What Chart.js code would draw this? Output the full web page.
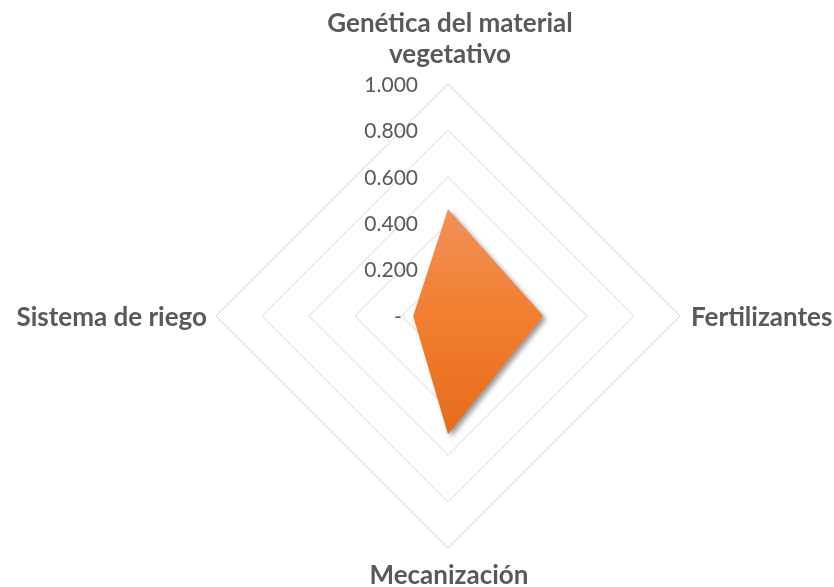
<!DOCTYPE html>
<html>
<head>
<meta charset="utf-8">
<script src="https://cdn.jsdelivr.net/npm/chart.js@4"></script>
<style>
  html, body { margin: 0; padding: 0; background: #ffffff; }
  #wrap { width: 834px; height: 587px; }
</style>
</head>
<body>
<div id="wrap"><canvas id="grafico" width="834" height="587"></canvas></div>
<script>
// categorias (la primera va arriba, luego en sentido horario)
const categorias = [
    ['Genética del material', 'vegetativo'],
    'Fertilizantes',
    'Mecanización',
    'Sistema de riego'
];
const valores = [0.46, 0.41, 0.51, 0.15];
const tickValores = [0, 0.2, 0.4, 0.6, 0.8, 1.0];
const tickEtiquetas = ['-   ', '0.200', '0.400', '0.600', '0.800', '1.000'];

const gris = '#595959';

// dibuja etiquetas de los ejes y de las categorias
const etiquetasPlugin = {
    id: 'etiquetas',
    afterDraw(chart) {
        const r = chart.scales.r;
        const ctx = chart.ctx;
        ctx.save();
        ctx.fillStyle = gris;

        // valores del eje, a la izquierda del eje vertical
        ctx.font = '21px Lato';
        ctx.textAlign = 'right';
        ctx.textBaseline = 'middle';
        r.ticks.forEach((t, i) => {
            const p = r.getPointPositionForValue(0, t.value);
            ctx.fillText(tickEtiquetas[i], p.x - 30, p.y + 1);
        });

        // categorias
        ctx.font = 'bold 26px Lato';
        ctx.textBaseline = 'alphabetic';
        const d = r.drawingArea;
        categorias.forEach((cat, i) => {
            const p = r.getPointPosition(i, d);
            if (i === 0) {
                ctx.textAlign = 'center';
                ctx.fillText(cat[0], p.x + 2, p.y - 52);
                ctx.fillText(cat[1], p.x + 2, p.y - 21);
            } else if (i === 1) {
                ctx.textAlign = 'left';
                ctx.fillText(cat, p.x + 11, p.y + 10);
            } else if (i === 2) {
                ctx.textAlign = 'center';
                ctx.fillText(cat, p.x + 1, p.y + 36);
            } else {
                ctx.textAlign = 'right';
                ctx.fillText(cat, p.x - 9, p.y + 10);
            }
        });
        ctx.restore();
    }
};

// sombra suave bajo el area
const sombraPlugin = {
    id: 'sombra',
    beforeDatasetsDraw(chart) {
        const ctx = chart.ctx;
        ctx.save();
        ctx.shadowColor = 'rgba(0, 0, 0, 0.4)';
        ctx.shadowBlur = 5;
        ctx.shadowOffsetX = 3;
        ctx.shadowOffsetY = 3;
    },
    afterDatasetsDraw(chart) {
        chart.ctx.restore();
    }
};

function degradado(context) {
    const chart = context.chart;
    const area = chart.chartArea;
    if (!area) return '#F27E2E';
    const g = chart.ctx.createLinearGradient(0, area.top, 0, area.bottom);
    g.addColorStop(0, '#F4A674');
    g.addColorStop(0.27, '#F0915A');
    g.addColorStop(0.5, '#F27E2E');
    g.addColorStop(0.76, '#E56C1C');
    g.addColorStop(1, '#D8600F');
    return g;
}

new Chart(document.getElementById('grafico'), {
    type: 'radar',
    data: {
        labels: categorias,
        datasets: [{
            data: valores,
            backgroundColor: degradado,
            borderWidth: 0,
            pointRadius: 0,
            fill: true
        }]
    },
    options: {
        responsive: false,
        animation: false,
        layout: { padding: { left: 216, right: 154, top: 84, bottom: 39 } },
        plugins: {
            legend: { display: false },
            tooltip: { enabled: false }
        },
        scales: {
            r: {
                min: 0,
                max: 1,
                afterBuildTicks: (axis) => {
                    axis.ticks = tickValores.map(v => ({ value: v }));
                },
                ticks: { display: false },
                grid: { circular: false, color: '#D6D6D6', lineWidth: 1 },
                angleLines: { display: false },
                pointLabels: { display: false }
            }
        }
    },
    plugins: [sombraPlugin, etiquetasPlugin]
});
</script>
</body>
</html>
